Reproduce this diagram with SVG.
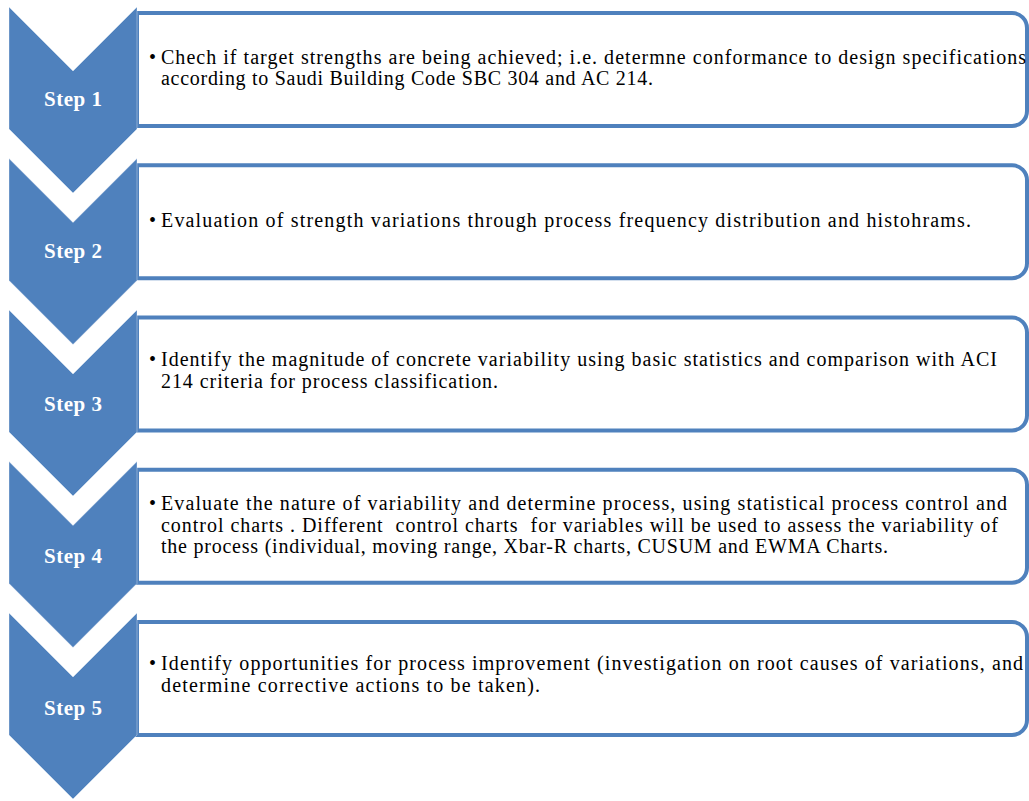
<svg xmlns="http://www.w3.org/2000/svg" width="1029" height="801" viewBox="0 0 1029 801">
<style>
.box{fill:#fff;stroke:#4F81BD;stroke-width:4}
.chev{fill:#4F81BD;stroke:#fff;stroke-opacity:0.35;stroke-width:1}
.lbl{font-family:"Liberation Serif",serif;font-weight:bold;font-size:21px;fill:#fff;text-anchor:middle}
.txt{font-family:"Liberation Serif",serif;font-size:20px;fill:#000;white-space:pre}
.bul{font-family:"Liberation Serif",serif;font-size:20px;fill:#000}
</style>
<rect width="1029" height="801" fill="#fff"/>
<g id="step1">
<path class="box" d="M137 13H1012A15 15 0 0 1 1027 28V111A15 15 0 0 1 1012 126H137Z"/>
<path class="chev" d="M9 7L73 71L137 7V129L73 193L9 129Z"/>
<text class="lbl" x="73" y="106" textLength="58" lengthAdjust="spacing">Step 1</text>
<text class="bul" x="149" y="63.5">•</text>
<text class="txt" x="161" y="63.5" textLength="865" lengthAdjust="spacing">Chech if target strengths are being achieved; i.e. determne conformance to design specifications</text>
<text class="txt" x="161" y="85" textLength="492" lengthAdjust="spacing">according to Saudi Building Code SBC 304 and AC 214.</text>
</g>
<g id="step2">
<path class="box" d="M137 165.25H1012A15 15 0 0 1 1027 180.25V263.25A15 15 0 0 1 1012 278.25H137Z"/>
<path class="chev" d="M9 158.5L73 222.5L137 158.5V280.5L73 344.5L9 280.5Z"/>
<text class="lbl" x="73" y="258.25" textLength="58" lengthAdjust="spacing">Step 2</text>
<text class="bul" x="149" y="227">•</text>
<text class="txt" x="161" y="227" textLength="810" lengthAdjust="spacing">Evaluation of strength variations through process frequency distribution and histohrams.</text>
</g>
<g id="step3">
<path class="box" d="M137 317.5H1012A15 15 0 0 1 1027 332.5V415.5A15 15 0 0 1 1012 430.5H137Z"/>
<path class="chev" d="M9 310L73 374L137 310V432L73 496L9 432Z"/>
<text class="lbl" x="73" y="410.5" textLength="58" lengthAdjust="spacing">Step 3</text>
<text class="bul" x="149" y="366">•</text>
<text class="txt" x="161" y="366" textLength="836" lengthAdjust="spacing">Identify the magnitude of concrete variability using basic statistics and comparison with ACI</text>
<text class="txt" x="161" y="387.5" textLength="337" lengthAdjust="spacing">214 criteria for process classification.</text>
</g>
<g id="step4">
<path class="box" d="M137 469.75H1012A15 15 0 0 1 1027 484.75V567.75A15 15 0 0 1 1012 582.75H137Z"/>
<path class="chev" d="M9 461.5L73 525.5L137 461.5V583.5L73 647.5L9 583.5Z"/>
<text class="lbl" x="73" y="562.75" textLength="58" lengthAdjust="spacing">Step 4</text>
<text class="bul" x="149" y="510">•</text>
<text class="txt" x="161" y="510" textLength="846" lengthAdjust="spacing">Evaluate the nature of variability and determine process, using statistical process control and</text>
<text class="txt" x="161" y="531.5" textLength="837" lengthAdjust="spacing">control charts . Different  control charts  for variables will be used to assess the variability of</text>
<text class="txt" x="161" y="553" textLength="727" lengthAdjust="spacing">the process (individual, moving range, Xbar-R charts, CUSUM and EWMA Charts.</text>
</g>
<g id="step5">
<path class="box" d="M137 622H1012A15 15 0 0 1 1027 637V720A15 15 0 0 1 1012 735H137Z"/>
<path class="chev" d="M9 613L73 677L137 613V735L73 799L9 735Z"/>
<text class="lbl" x="73" y="715" textLength="58" lengthAdjust="spacing">Step 5</text>
<text class="bul" x="149" y="670">•</text>
<text class="txt" x="161" y="670" textLength="862" lengthAdjust="spacing">Identify opportunities for process improvement (investigation on root causes of variations, and</text>
<text class="txt" x="161" y="691.5" textLength="379" lengthAdjust="spacing">determine corrective actions to be taken).</text>
</g>
<g id="connectors"/>
</svg>
